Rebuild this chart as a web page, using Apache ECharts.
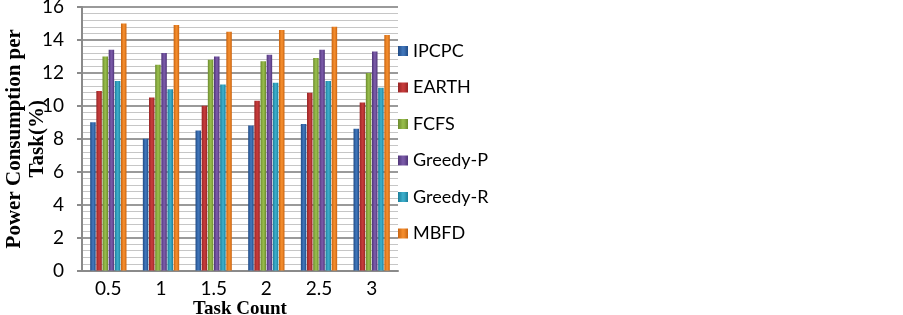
<!DOCTYPE html>
<html>
<head>
<meta charset="utf-8">
<script src="https://cdn.jsdelivr.net/npm/echarts@6/dist/echarts.min.js"></script>
<style>
html,body{margin:0;padding:0;background:#fff;}
#chart{width:903px;height:315px;}
</style>
</head>
<body>
<div id="chart"></div>
<script>
var categories = ['0.5', '1', '1.5', '2', '2.5', '3'];
var seriesNames = ['IPCPC', 'EARTH', 'FCFS', 'Greedy-P', 'Greedy-R', 'MBFD'];
var ipcpc   = [9.0, 8.0, 8.5, 8.8, 8.9, 8.6];
var earth   = [10.9, 10.5, 10.0, 10.3, 10.8, 10.2];
var fcfs    = [13.0, 12.5, 12.8, 12.7, 12.9, 12.0];
var greedyP = [13.4, 13.2, 13.0, 13.1, 13.4, 13.3];
var greedyR = [11.5, 11.0, 11.3, 11.4, 11.5, 11.1];
var mbfd    = [15.0, 14.9, 14.5, 14.6, 14.8, 14.3];
var yTicks  = [0, 2, 4, 6, 8, 10, 12, 14, 16];

var allValues = [ipcpc, earth, fcfs, greedyP, greedyR, mbfd];
var palette = [
  ['#1f4a85', '#3f74b8'],
  ['#962424', '#c43a3a'],
  ['#6b8a2c', '#95ba4a'],
  ['#4f3478', '#7858a6'],
  ['#1a7d99', '#3aabc8'],
  ['#c8630f', '#f28b2c']
];

function grad(c) {
  return new echarts.graphic.LinearGradient(0, 0, 1, 0, [
    {offset: 0, color: c[0]},
    {offset: 0.45, color: c[1]},
    {offset: 0.6, color: c[1]},
    {offset: 1, color: c[0]}
  ]);
}

var series = seriesNames.map(function (name, i) {
  return {
    name: name,
    type: 'bar',
    data: allValues[i],
    barWidth: 5.5,
    barGap: '12%',
    itemStyle: {color: grad(palette[i])}
  };
});

var chart = echarts.init(document.getElementById('chart'), null, {renderer: 'canvas'});
chart.setOption({
  animation: false,
  backgroundColor: '#ffffff',
  grid: {left: 82, right: 505, top: 7, bottom: 44.5, containLabel: false, outerBoundsMode: 'none'},
  legend: {
    orient: 'vertical',
    left: 393,
    top: 36,
    itemWidth: 10,
    itemHeight: 10,
    itemGap: 16.5,
    icon: 'rect',
    data: seriesNames,
    textStyle: {fontFamily: 'Lato', fontSize: 18, color: '#000', lineHeight: 20}
  },
  xAxis: {
    type: 'category',
    data: categories,
    axisLine: {show: true, lineStyle: {color: '#8a8a8a', width: 2}},
    axisTick: {show: false},
    axisLabel: {fontFamily: 'Lato', fontSize: 19, color: '#000', margin: 9},
    name: 'Task Count',
    nameLocation: 'middle',
    nameGap: 29,
    nameMoveOverlap: false,
    nameTextStyle: {fontFamily: 'Liberation Serif', fontWeight: 'bold', fontSize: 19, color: '#000'}
  },
  yAxis: {
    type: 'value',
    min: yTicks[0],
    max: yTicks[yTicks.length - 1],
    interval: 2,
    axisLine: {show: true, lineStyle: {color: '#8a8a8a', width: 2}},
    axisTick: {show: true, inside: false, length: 5, lineStyle: {color: '#8a8a8a', width: 2}},
    axisLabel: {fontFamily: 'Lato', fontSize: 19, color: '#000', margin: 18},
    splitLine: {show: true, lineStyle: {color: '#9a9a9a', width: 2}},
    minorTick: {show: false, splitNumber: 5},
    minorSplitLine: {show: true, lineStyle: {color: '#c6c6c6', width: 1}},
    name: 'Power Consumption per\nTask(%)',
    nameLocation: 'middle',
    nameRotate: 90,
    nameGap: 33,
    nameMoveOverlap: false,
    nameTextStyle: {fontFamily: 'Liberation Serif', fontWeight: 'bold', fontSize: 21, color: '#000', lineHeight: 23, align: 'center'}
  },
  series: series
});
</script>
</body>
</html>
